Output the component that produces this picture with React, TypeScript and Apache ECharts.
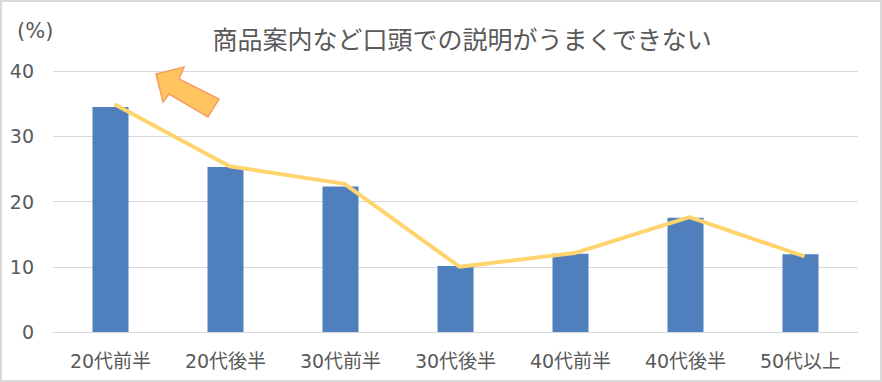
import React, { useEffect, useRef } from "react";
import * as echarts from "echarts";

const categories = ["20代前半", "20代後半", "30代前半", "30代後半", "40代前半", "40代後半", "50代以上"];
const barValues = [34.5, 25.3, 22.3, 10.1, 12.0, 17.5, 11.9];
const lineValues = [34.9, 25.4, 22.7, 10.0, 12.1, 17.6, 11.6];
const yTicks = { min: 0, max: 40, interval: 10 };
const titleText = "商品案内など口頭での説明がうまくできない";
const unitText = "(%)";

const FONT = "'Noto Sans CJK JP', 'Noto Sans', sans-serif";
const LABEL_FONT = "'DejaVu Sans', 'Noto Sans CJK JP', sans-serif";

export default function App() {
  const ref = useRef<HTMLDivElement>(null);
  useEffect(() => {
    if (!ref.current) return;
    const chart = echarts.init(ref.current, undefined, { renderer: "svg" });
    chart.setOption({
      animation: false,
      backgroundColor: "#ffffff",
      title: {
        text: titleText,
        left: 457,
        top: 20,
        textAlign: "center",
        textStyle: { fontFamily: FONT, fontSize: 25, fontWeight: "normal", color: "#595959" },
      },
      grid: [
        { left: 53, right: 24, top: 71, bottom: 50 },
        { left: 57, right: 20, top: 71, bottom: 50 },
      ],
      xAxis: [
        {
          type: "category",
          gridIndex: 0,
          data: categories,
          axisLine: { lineStyle: { color: "#d9d9d9", width: 1 } },
          axisTick: { show: false },
          axisLabel: { fontFamily: LABEL_FONT, fontSize: 19, color: "#595959", margin: 19 },
        },
        {
          type: "category",
          gridIndex: 1,
          data: categories,
          show: false,
        },
      ],
      yAxis: [
        {
          type: "value",
          gridIndex: 0,
          min: yTicks.min,
          max: yTicks.max,
          interval: yTicks.interval,
          axisLine: { show: false },
          axisTick: { show: false },
          splitLine: { lineStyle: { color: "#d9d9d9", width: 1 } },
          axisLabel: { fontFamily: LABEL_FONT, fontSize: 19, color: "#595959", margin: 19 },
        },
        {
          type: "value",
          gridIndex: 1,
          min: yTicks.min,
          max: yTicks.max,
          interval: yTicks.interval,
          show: false,
        },
      ],
      series: [
        {
          type: "bar",
          xAxisIndex: 0,
          yAxisIndex: 0,
          data: barValues,
          barWidth: 36,
          itemStyle: { color: "#4f7fbc" },
        },
        {
          type: "line",
          xAxisIndex: 1,
          yAxisIndex: 1,
          data: lineValues,
          symbol: "none",
          lineStyle: { color: "#ffd46e", width: 4 },
        },
      ],
      graphic: [
        {
          type: "rect",
          shape: { x: 1, y: 1, width: 880, height: 380 },
          style: { fill: "none", stroke: "#d9d9d9", lineWidth: 2 },
          silent: true,
        },
        {
          type: "text",
          left: 17,
          top: 20,
          style: { text: unitText, fontFamily: LABEL_FONT, fontSize: 21, fill: "#595959" },
        },
        {
          type: "polygon",
          shape: {
            points: [
              [156, 74],
              [184, 67],
              [179, 79],
              [219, 99],
              [208, 117],
              [169, 94],
              [163, 102],
            ],
          },
          style: { fill: "#ffc45f", stroke: "#f59d66", lineWidth: 1.5 },
          z: 10,
        },
      ],
    });
    return () => chart.dispose();
  }, []);
  return (
    <div
      ref={ref}
      style={{ position: "fixed", left: 0, top: 0, width: 882, height: 382 }}
    />
  );
}
